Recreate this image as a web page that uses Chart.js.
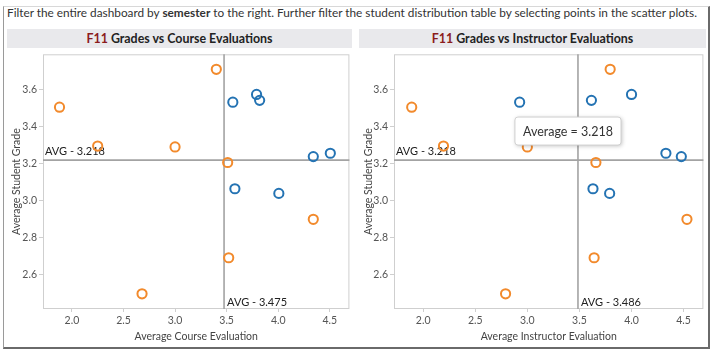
<!DOCTYPE html>
<html>
<head>
<meta charset="utf-8">
<script src="https://cdn.jsdelivr.net/npm/chart.js@4.4.1/dist/chart.umd.min.js"></script>
<style>
  html, body { margin:0; padding:0; background:#fff; width:718px; height:357px; overflow:hidden; font-family: Lato, "Open Sans", sans-serif; }
  .frame { position:absolute; left:3px; top:6px; width:704px; height:340px; border-left:1px solid #9a9a9a; border-top:1px solid #d8d8d8; border-right:2px solid #6a6a6a; border-bottom:2px solid #6a6a6a; }
  .hdr { position:absolute; left:7px; top:6px; font-size:11.8px; color:#333; white-space:nowrap; line-height:14px; }
  .band { position:absolute; top:29px; height:19px; background:#e9e9ec; text-align:center; font-weight:bold; font-size:12.4px; line-height:19px; color:#222; white-space:nowrap; }
  .band span { color:#8b1c1c; }
  .box { position:absolute; }
</style>
</head>
<body>
<div class="frame"></div>
<div class="hdr">Filter the entire dashboard by <b>semester</b> to the right. Further filter the student distribution table by selecting points in the scatter plots.</div>
<div class="band" style="left:7px;width:345px;"><span>F11</span> Grades vs Course Evaluations</div>
<div class="band" style="left:359px;width:347px;"><span>F11</span> Grades vs Instructor Evaluations</div>
<div class="box" style="left:0px;top:46px;width:356px;height:300px;"><canvas id="c1"></canvas></div>
<div class="box" style="left:352px;top:46px;width:358px;height:300px;"><canvas id="c2"></canvas></div>
<script>
// ---- data ----
const orangeGrade      = [3.504, 3.294, 3.289, 3.709, 3.205, 2.898, 2.690, 2.495];
const orangeCourseEval = [1.88, 2.25, 3.00, 3.40, 3.51, 4.34, 3.52, 2.68];
const orangeInstrEval  = [1.89, 2.195, 3.00, 3.795, 3.658, 4.532, 3.641, 2.791];
const blueGrade        = [3.531, 3.573, 3.541, 3.237, 3.255, 3.063, 3.038];
const blueCourseEval   = [3.56, 3.79, 3.82, 4.34, 4.505, 3.58, 4.006];
const blueInstrEval    = [2.926, 4.00, 3.615, 4.478, 4.33, 3.63, 3.79];
const avgGrade = 3.218;
const avgCourseEval = 3.475;
const avgInstrEval = 3.486;
const xTicks = [2.0, 2.5, 3.0, 3.5, 4.0, 4.5];
const yTicks = [2.6, 2.8, 3.0, 3.2, 3.4, 3.6];
const tooltipText = 'Average = 3.218';
const tooltipAt = { x: 3.39, y: 3.375 };

const ORANGE = '#f28a2c';
const BLUE = '#2473b3';
const FONT = 'Lato, "Open Sans", sans-serif';

function pts(xs, ys) { return xs.map((v, i) => ({ x: v, y: ys[i] })); }

const refPlugin = {
  id: 'refs',
  beforeDatasetsDraw(chart, args, o) {
    const { ctx, chartArea: a, scales: { x, y } } = chart;
    ctx.save();
    ctx.strokeStyle = '#cfcfcf'; ctx.lineWidth = 1;
    ctx.strokeRect(a.left + 0.5, a.top + 0.5, a.right - a.left - 1, a.bottom - a.top - 1);
    const px = x.getPixelForValue(o.avgX);
    const py = y.getPixelForValue(o.avgY);
    ctx.strokeStyle = '#a3a3a3'; ctx.lineWidth = 1.6;
    ctx.beginPath();
    ctx.moveTo(px, a.top); ctx.lineTo(px, a.bottom);
    ctx.moveTo(a.left, py); ctx.lineTo(a.right, py);
    ctx.stroke();
    ctx.fillStyle = '#222'; ctx.font = '11px ' + FONT;
    ctx.textAlign = 'left'; ctx.textBaseline = 'bottom';
    ctx.fillText('AVG - ' + o.avgY.toFixed(3), a.left + 2, py - 3);
    ctx.fillText('AVG - ' + o.avgX.toFixed(3), px + 3, a.bottom - 1);
    ctx.restore();
  },
  afterDraw(chart, args, o) {
    if (!o.tip) return;
    const { ctx, scales: { x, y } } = chart;
    const cx = x.getPixelForValue(o.tip.x), cy = y.getPixelForValue(o.tip.y);
    ctx.save();
    ctx.font = '12.5px ' + FONT;
    const w = ctx.measureText(o.tip.text).width + 16, h = 28;
    const l = cx - w / 2, t = cy - h / 2;
    ctx.shadowColor = 'rgba(0,0,0,0.25)'; ctx.shadowBlur = 4; ctx.shadowOffsetX = 1; ctx.shadowOffsetY = 1;
    ctx.fillStyle = '#fff';
    ctx.beginPath(); ctx.roundRect(l, t, w, h, 3); ctx.fill();
    ctx.shadowColor = 'transparent';
    ctx.strokeStyle = '#d0d0d0'; ctx.lineWidth = 1; ctx.stroke();
    ctx.fillStyle = '#333'; ctx.textAlign = 'center'; ctx.textBaseline = 'middle';
    ctx.fillText(o.tip.text, cx, cy + 0.5);
    ctx.restore();
  }
};

function makeChart(id, oX, bX, avgX, xTitle, yWidth, tip) {
  return new Chart(document.getElementById(id), {
    type: 'scatter',
    data: {
      datasets: [
        { data: pts(oX, orangeGrade), borderColor: ORANGE, backgroundColor: 'rgba(255,255,255,0)', pointRadius: 4.6, pointHoverRadius: 4.6, borderWidth: 2 },
        { data: pts(bX, blueGrade), borderColor: BLUE, backgroundColor: 'rgba(255,255,255,0)', pointRadius: 4.6, pointHoverRadius: 4.6, borderWidth: 2 }
      ]
    },
    options: {
      responsive: true, maintainAspectRatio: false, animation: false,
      layout: { padding: { top: 5, right: 4, left: 0, bottom: 0 } },
      plugins: { legend: { display: false }, tooltip: { enabled: false },
        refs: { avgX: avgX, avgY: avgGrade, tip: tip } },
      scales: {
        x: {
          type: 'linear', min: 1.72, max: 4.69,
          afterBuildTicks: s => { s.ticks = xTicks.map(v => ({ value: v })); },
          afterFit: s => { s.height = 37; },
          ticks: { callback: v => Number(v).toFixed(1), font: { family: FONT, size: 10.5 }, color: '#555', padding: 2, maxRotation: 0, autoSkip: false },
          grid: { display: true, drawOnChartArea: false, drawTicks: true, tickLength: 3, color: '#cfcfcf' },
          border: { display: false },
          title: { display: true, text: xTitle, font: { family: FONT, size: 10.5 }, color: '#444', padding: { top: 0, bottom: 3 } }
        },
        y: {
          type: 'linear', min: 2.413, max: 3.79,
          afterBuildTicks: s => { s.ticks = yTicks.map(v => ({ value: v })); },
          afterFit: s => { s.width = yWidth; },
          ticks: { callback: v => Number(v).toFixed(1), font: { family: FONT, size: 10.5 }, color: '#555', padding: 2, autoSkip: false },
          grid: { display: true, drawOnChartArea: false, drawTicks: true, tickLength: 4, color: '#cfcfcf' },
          border: { display: false },
          title: { display: true, text: 'Average Student Grade', font: { family: FONT, size: 10.5 }, color: '#444', padding: { top: 10, bottom: 0 } }
        }
      }
    },
    plugins: [refPlugin]
  });
}

makeChart('c1', orangeCourseEval, blueCourseEval, avgCourseEval, 'Average Course Evaluation', 43, null);
makeChart('c2', orangeInstrEval, blueInstrEval, avgInstrEval, 'Average Instructor Evaluation', 42, { text: tooltipText, x: tooltipAt.x, y: tooltipAt.y });
</script>
</body>
</html>
